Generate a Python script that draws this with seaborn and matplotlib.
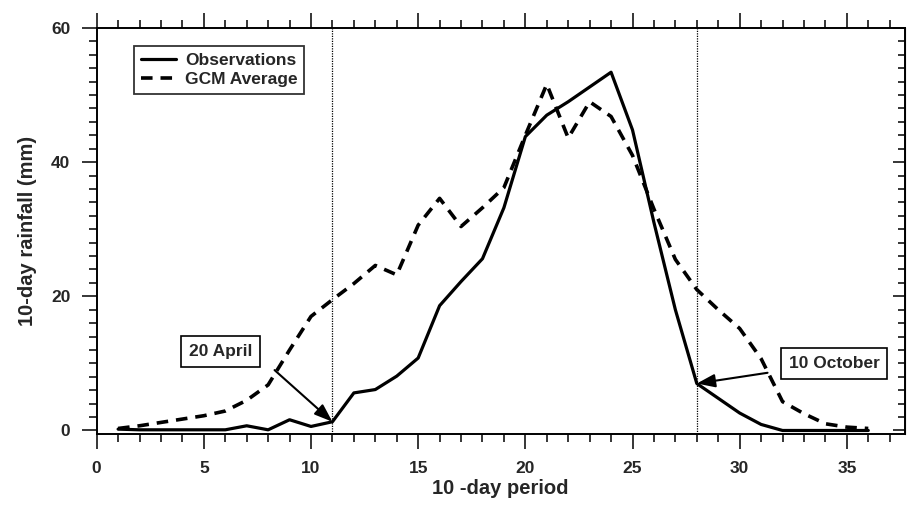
import numpy as np
import pandas as pd
import matplotlib
matplotlib.use("Agg")
import matplotlib.pyplot as plt
from matplotlib.ticker import MultipleLocator
import seaborn as sns

# 10-day periods and rainfall (mm)
periods = list(range(1, 37))
observations = [0.2, 0.1, 0.1, 0.1, 0.1, 0.1, 0.7, 0.1, 1.6, 0.6,
                1.3, 5.6, 6.1, 8.1, 10.8, 18.6, 22.2, 25.6, 33.2, 43.8,
                47.0, 49.0, 51.2, 53.4, 44.8, 31.0, 18.0, 7.0, 4.8, 2.6,
                0.9, 0.0, 0.0, 0.0, 0.0, 0.0]
gcm_average = [0.3, 0.7, 1.2, 1.7, 2.2, 2.9, 4.5, 6.8, 12.0, 17.0,
               19.5, 21.9, 24.6, 23.2, 30.6, 34.6, 30.4, 33.2, 36.2, 44.0,
               51.6, 43.6, 49.0, 46.8, 41.0, 33.0, 25.5, 21.0, 18.0, 15.2,
               10.7, 4.3, 2.5, 1.0, 0.5, 0.3]
markers_x = [11, 28]
annot_text = ["20 April", "10 October"]
annot_xy = [(11, 1.3), (28, 7.0)]
annot_text_xy = [(5.8, 11.8), (34.4, 10.0)]
annot_tail_xy = [(8.3, 9.0), (31.3, 8.6)]

df = pd.DataFrame({"period": periods, "Observations": observations,
                   "GCM Average": gcm_average})

sns.set_style("ticks")
plt.rcParams["font.family"] = ["Liberation Sans", "DejaVu Sans"]
plt.rcParams["font.weight"] = "bold"

fig = plt.figure(figsize=(9.12, 5.08), dpi=100)
ax = fig.add_axes([0.106, 0.146, 0.886, 0.799])

sns.lineplot(ax=ax, data=df, x="period", y="Observations", color="black",
             linewidth=2.3, label="Observations")
sns.lineplot(ax=ax, data=df, x="period", y="GCM Average", color="black",
             linewidth=2.6, linestyle=(0, (3.2, 2.2)), label="GCM Average")

for xv in markers_x:
    ax.axvline(xv, color="black", linestyle=(0, (1, 1)), linewidth=0.9)

for txt, xy, txy, tail in zip(annot_text, annot_xy, annot_text_xy, annot_tail_xy):
    ax.text(txy[0], txy[1], txt, ha="center", va="center", fontsize=12.5,
            fontweight="bold",
            bbox=dict(boxstyle="square,pad=0.45", fc="white", ec="black", lw=1.2))
    ax.annotate("", xy=xy, xytext=tail,
                arrowprops=dict(arrowstyle="-|>,head_length=1.1,head_width=0.4",
                                color="black", lw=1.5, shrinkA=0, shrinkB=0))

ax.set_xlim(0, 37.7)
ax.set_ylim(-0.5, 60)
ax.xaxis.set_major_locator(MultipleLocator(5))
ax.xaxis.set_minor_locator(MultipleLocator(1))
ax.yaxis.set_major_locator(MultipleLocator(20))
ax.yaxis.set_minor_locator(MultipleLocator(2))
ax.tick_params(axis="x", which="both", direction="out", top=True, bottom=True,
               width=1.3)
ax.tick_params(axis="x", which="major", length=10.5, labelsize=12.5, pad=9)
ax.tick_params(axis="x", which="minor", length=5.5)
ax.tick_params(axis="y", which="major", direction="out", left=True, right=False,
               width=1.3, length=11, labelsize=12.5, pad=8)
ax.tick_params(axis="y", which="minor", direction="out", left=True, right=False,
               width=1.3, length=6)
for lbl in ax.get_xticklabels() + ax.get_yticklabels():
    lbl.set_fontweight("bold")

# right side: inward ticks without labels
ax_r = ax.secondary_yaxis("right")
ax_r.yaxis.set_major_locator(MultipleLocator(20))
ax_r.yaxis.set_minor_locator(MultipleLocator(2))
ax_r.tick_params(which="both", direction="in", labelright=False, width=1.3)
ax_r.tick_params(which="major", length=9)
ax_r.tick_params(which="minor", length=5)

for sp in ax.spines.values():
    sp.set_linewidth(1.4)
    sp.set_color("black")

ax.set_xlabel("10 -day period", fontsize=14.5, fontweight="bold", labelpad=2)
ax.set_ylabel("10-day rainfall (mm)", fontsize=14.5, fontweight="bold", labelpad=10)

leg = ax.legend(loc="upper left", bbox_to_anchor=(0.036, 0.978), fontsize=12.5,
                frameon=True, fancybox=False, handlelength=2.0,
                borderpad=0.4, labelspacing=0.25, handletextpad=0.5)
leg.get_frame().set_edgecolor("black")
leg.get_frame().set_linewidth(1.3)

fig.savefig("out.png", dpi=100)
